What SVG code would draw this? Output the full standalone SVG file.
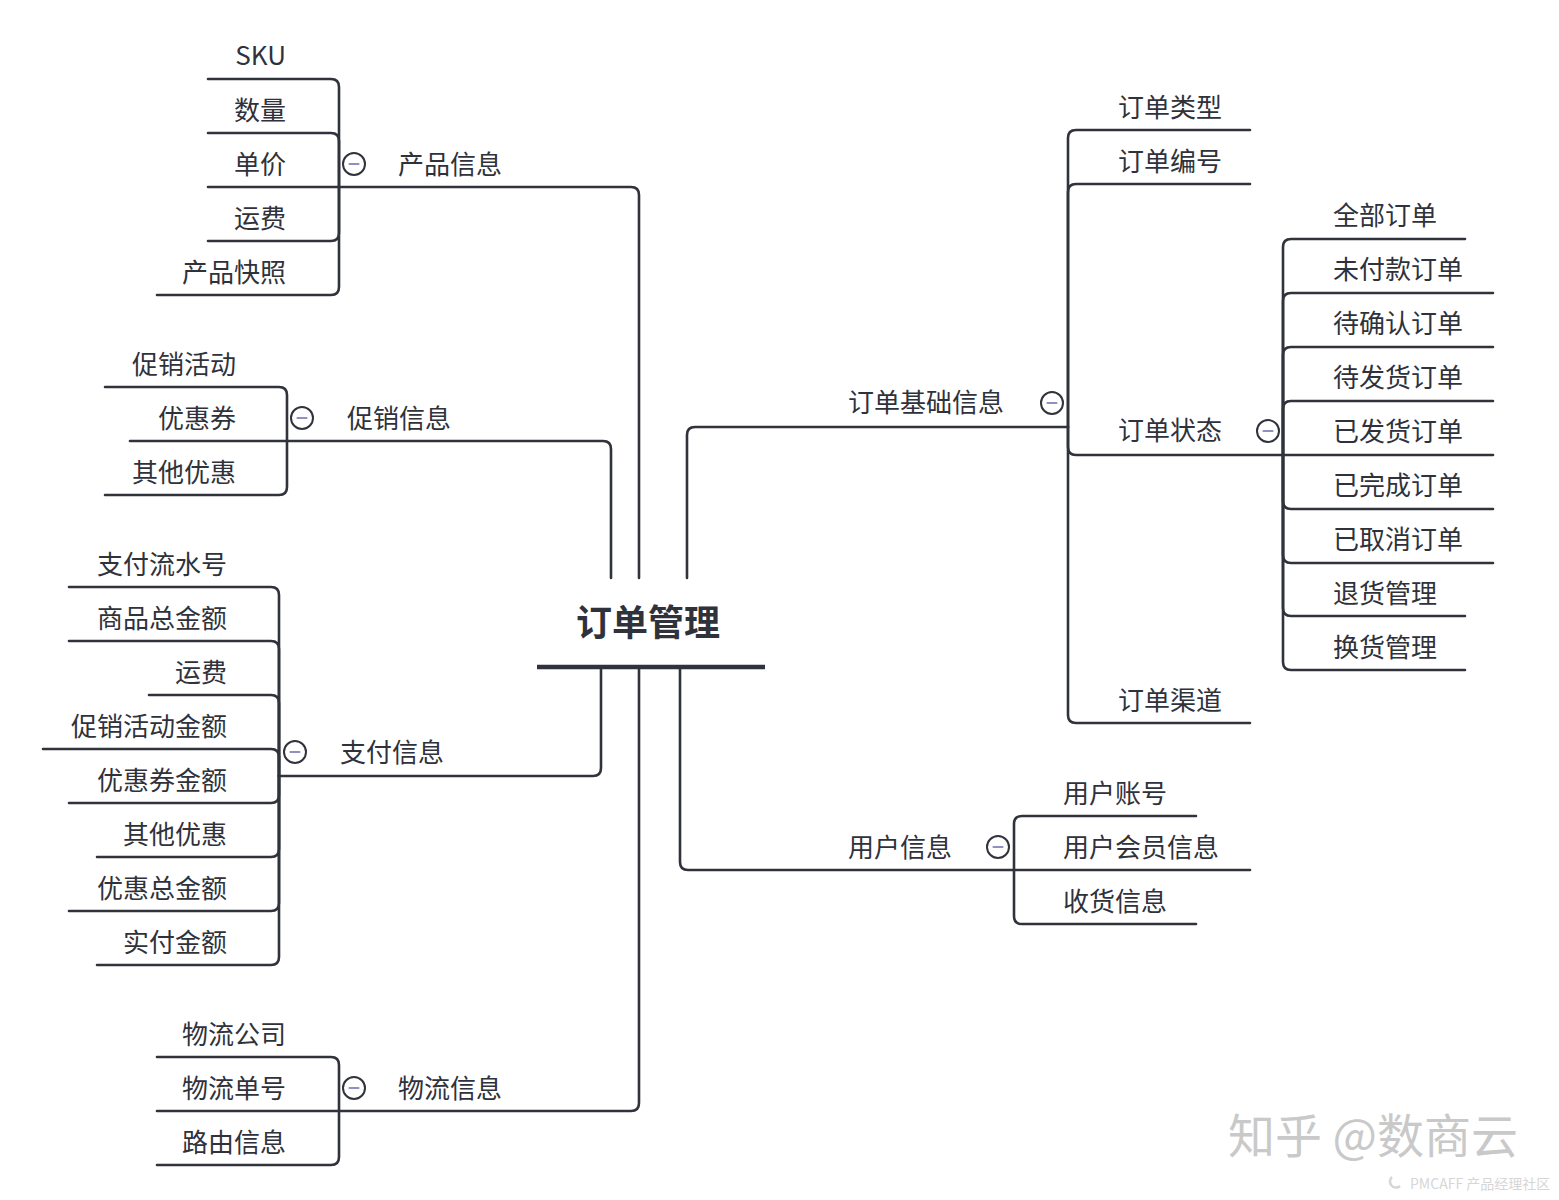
<svg xmlns="http://www.w3.org/2000/svg" width="1559" height="1200" viewBox="0 0 1559 1200">
<style>
.ln{fill:none;stroke:#30333c;stroke-width:2.6;stroke-linecap:round;stroke-linejoin:round}
.t{font-family:"Noto Sans CJK SC","Noto Sans",sans-serif;font-size:26px;fill:#2f323b}
.e{text-anchor:end}
.c{fill:#fff;stroke:#30333c;stroke-width:2}
.m{stroke:#8d90c4;stroke-width:2.2;stroke-linecap:round}
.wm{font-family:"Noto Sans CJK SC",sans-serif;fill:#c9c9c9}
</style>
<defs>
<g id="tog"><circle class="c" r="11"/><line class="m" x1="-4.5" y1="0" x2="4.5" y2="0"/></g>
</defs>
<rect width="1559" height="1200" fill="#ffffff"/>
<g id="connectors">
<path class="ln" d="M639 578 V195 Q639 187 631 187 H339"/>
<path class="ln" d="M339 187 V87 Q339 79 331 79 H208"/>
<path class="ln" d="M339 187 V141 Q339 133 331 133 H208"/>
<path class="ln" d="M339 187 H208"/>
<path class="ln" d="M339 187 V233 Q339 241 331 241 H208"/>
<path class="ln" d="M339 187 V287 Q339 295 331 295 H157"/>
<path class="ln" d="M611 578 V449 Q611 441 603 441 H287"/>
<path class="ln" d="M287 441 V395 Q287 387 279 387 H105"/>
<path class="ln" d="M287 441 H130"/>
<path class="ln" d="M287 441 V487 Q287 495 279 495 H105"/>
<path class="ln" d="M601 667 V768 Q601 776 593 776 H279"/>
<path class="ln" d="M279 776 V595 Q279 587 271 587 H69"/>
<path class="ln" d="M279 776 V649 Q279 641 271 641 H69"/>
<path class="ln" d="M279 776 V703 Q279 695 271 695 H149"/>
<path class="ln" d="M279 776 V757 Q279 749 271 749 H43"/>
<path class="ln" d="M279 776 V795 Q279 803 271 803 H69"/>
<path class="ln" d="M279 776 V849 Q279 857 271 857 H97"/>
<path class="ln" d="M279 776 V903 Q279 911 271 911 H69"/>
<path class="ln" d="M279 776 V957 Q279 965 271 965 H97"/>
<path class="ln" d="M639 667 V1103 Q639 1111 631 1111 H339"/>
<path class="ln" d="M339 1111 V1065 Q339 1057 331 1057 H157"/>
<path class="ln" d="M339 1111 H157"/>
<path class="ln" d="M339 1111 V1157 Q339 1165 331 1165 H157"/>
<path class="ln" d="M687 578 V435 Q687 427 695 427 H1068"/>
<path class="ln" d="M1068 427 V138 Q1068 130 1076 130 H1250"/>
<path class="ln" d="M1068 427 V192 Q1068 184 1076 184 H1250"/>
<path class="ln" d="M1068 427 V447 Q1068 455 1076 455 H1283"/>
<path class="ln" d="M1068 427 V715 Q1068 723 1076 723 H1250"/>
<path class="ln" d="M1283 455 V247 Q1283 239 1291 239 H1465"/>
<path class="ln" d="M1283 455 V301 Q1283 293 1291 293 H1493"/>
<path class="ln" d="M1283 455 V355 Q1283 347 1291 347 H1493"/>
<path class="ln" d="M1283 455 V409 Q1283 401 1291 401 H1493"/>
<path class="ln" d="M1283 455 H1493"/>
<path class="ln" d="M1283 455 V501 Q1283 509 1291 509 H1493"/>
<path class="ln" d="M1283 455 V555 Q1283 563 1291 563 H1493"/>
<path class="ln" d="M1283 455 V608 Q1283 616 1291 616 H1465"/>
<path class="ln" d="M1283 455 V662 Q1283 670 1291 670 H1465"/>
<path class="ln" d="M680 667 V862 Q680 870 688 870 H1014"/>
<path class="ln" d="M1014 870 V824 Q1014 816 1022 816 H1196"/>
<path class="ln" d="M1014 870 H1250"/>
<path class="ln" d="M1014 870 V916 Q1014 924 1022 924 H1196"/>
</g>
<g id="root">
<text x="648" y="636" text-anchor="middle" style="font-family:'Noto Sans CJK SC',sans-serif;font-size:36px;font-weight:bold;fill:#2f323b">订单管理</text>
<line x1="537" y1="667" x2="765" y2="667" stroke="#30333c" stroke-width="4.5"/>
</g>
<g id="product">
<text class="t" x="398" y="174">产品信息</text>
<use href="#tog" x="354" y="164"/>
<text class="t e" x="286" y="65">SKU</text>
<text class="t e" x="286" y="120">数量</text>
<text class="t e" x="286" y="174">单价</text>
<text class="t e" x="286" y="228">运费</text>
<text class="t e" x="286" y="282">产品快照</text>
</g>
<g id="promo">
<text class="t" x="347" y="428">促销信息</text>
<use href="#tog" x="302" y="418"/>
<text class="t e" x="236" y="374">促销活动</text>
<text class="t e" x="236" y="428">优惠券</text>
<text class="t e" x="236" y="482">其他优惠</text>
</g>
<g id="payment">
<text class="t" x="340" y="762">支付信息</text>
<use href="#tog" x="295" y="752"/>
<text class="t e" x="227" y="574">支付流水号</text>
<text class="t e" x="227" y="628">商品总金额</text>
<text class="t e" x="227" y="682">运费</text>
<text class="t e" x="227" y="736">促销活动金额</text>
<text class="t e" x="227" y="790">优惠券金额</text>
<text class="t e" x="227" y="844">其他优惠</text>
<text class="t e" x="227" y="898">优惠总金额</text>
<text class="t e" x="227" y="952">实付金额</text>
</g>
<g id="logistics">
<text class="t" x="398" y="1098">物流信息</text>
<use href="#tog" x="354" y="1088"/>
<text class="t e" x="286" y="1044">物流公司</text>
<text class="t e" x="286" y="1098">物流单号</text>
<text class="t e" x="286" y="1152">路由信息</text>
</g>
<g id="basic">
<text class="t" x="848" y="412">订单基础信息</text>
<use href="#tog" x="1052" y="403"/>
<text class="t" x="1118" y="117">订单类型</text>
<text class="t" x="1118" y="171">订单编号</text>
<text class="t" x="1118" y="440">订单状态</text>
<use href="#tog" x="1268" y="431"/>
<text class="t" x="1118" y="710">订单渠道</text>
</g>
<g id="status">
<text class="t" x="1333" y="225">全部订单</text>
<text class="t" x="1333" y="279">未付款订单</text>
<text class="t" x="1333" y="333">待确认订单</text>
<text class="t" x="1333" y="387">待发货订单</text>
<text class="t" x="1333" y="441">已发货订单</text>
<text class="t" x="1333" y="495">已完成订单</text>
<text class="t" x="1333" y="549">已取消订单</text>
<text class="t" x="1333" y="603">退货管理</text>
<text class="t" x="1333" y="657">换货管理</text>
</g>
<g id="user">
<text class="t" x="848" y="857">用户信息</text>
<use href="#tog" x="998" y="847"/>
<text class="t" x="1063" y="803">用户账号</text>
<text class="t" x="1063" y="857">用户会员信息</text>
<text class="t" x="1063" y="911">收货信息</text>
</g>
<g id="watermark">
<text class="wm" x="1228" y="1153" style="font-size:47px">知乎 @数商云</text>
<path d="M1392 1177 A6 6 0 1 0 1400 1186" fill="none" stroke="#d6d6d6" stroke-width="2.5"/>
<text class="wm" x="1410" y="1189" style="font-size:14px;fill:#d6d6d6">PMCAFF 产品经理社区</text>
</g>
</svg>
